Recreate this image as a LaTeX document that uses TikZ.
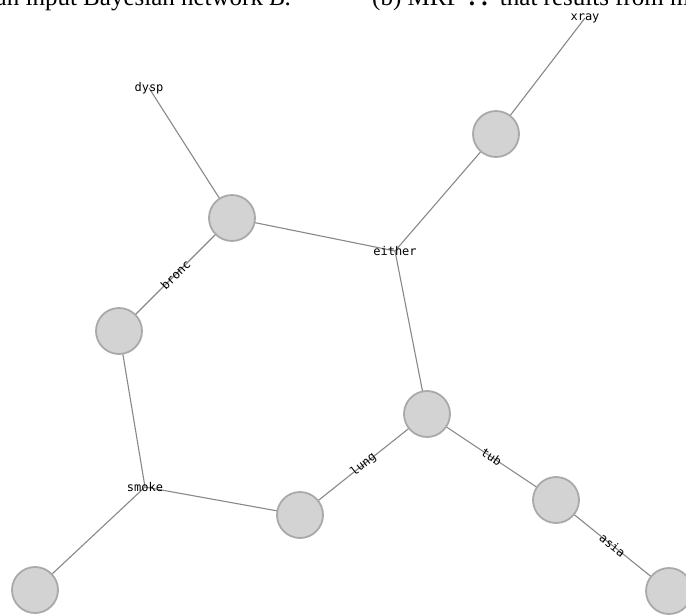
\documentclass[tikz,border=0pt]{standalone}
\usepackage{fontspec}
\setmainfont{Liberation Serif}
\newfontfamily\monofont{DejaVu Sans Mono}
\usetikzlibrary{calc,backgrounds}
\definecolor{circfill}{HTML}{D3D3D3}
\definecolor{circgray}{HTML}{A9A9A9}
\definecolor{edgegray}{HTML}{888888}
\begin{document}
\begin{tikzpicture}[x=1pt,y=-1pt,
  var/.style={circle, draw=circgray, fill=circfill, line width=1.8pt, minimum size=46pt, inner sep=0pt},
  lbl/.style={font=\monofont\fontsize{12}{14}\selectfont, inner sep=0pt, text=black},
  edge/.style={draw=edgegray, line width=1.1pt},
  head/.style={font=\fontsize{25}{30}\selectfont, inner sep=0pt}]
\useasboundingbox (0,0) rectangle (686,614);
\clip (0,0) rectangle (686,614);
% header text (cut off)
\node[head, anchor=base east] (h1) at (291,5) {an input Bayesian network \textit{B}.};
\node[head, anchor=base west] (h2) at (372,5) {(b) MRF \textbf{??} that results from m};
% circles
\node[var] (A) at (496,134) {};
\node[var] (B) at (232,218) {};
\node[var] (C) at (119,331) {};
\node[var] (D) at (427,414) {};
\node[var] (E) at (300,515) {};
\node[var] (F) at (556,500) {};
\node[var] (G) at (669,591) {};
\node[var] (H) at (35,590) {};
% labels
\node[lbl] (xray) at (585,18) {xray};
\node[lbl] (dysp) at (149,88) {dysp};
\node[lbl] (either) at (395,251) {either};
\node[lbl] (smoke) at (145,487) {smoke};
\node[lbl, rotate=45] (bronc) at ($(B)!0.5!(C)$) {bronc};
\node[lbl, rotate=38.5] (lung) at ($(D)!0.5!(E)$) {lung};
\node[lbl, rotate=-33.7] (tub) at ($(D)!0.5!(F)$) {tub};
\node[lbl, rotate=-38.8] (asia) at ($(F)!0.5!(G)$) {asia};
% edges
\begin{scope}[on background layer]
\draw[edge] (xray.center) -- (A.center);
\draw[edge] (dysp.center) -- (B.center);
\draw[edge] (A.center) -- (either.center);
\draw[edge] (B.center) -- (either.center);
\draw[edge] (either.center) -- (D.center);
\draw[edge] (B.center) -- (C.center);
\draw[edge] (C.center) -- (smoke.center);
\draw[edge] (smoke.center) -- (E.center);
\draw[edge] (smoke.center) -- (H.center);
\draw[edge] (E.center) -- (D.center);
\draw[edge] (D.center) -- (F.center);
\draw[edge] (F.center) -- (G.center);
\end{scope}
\end{tikzpicture}
\end{document}
